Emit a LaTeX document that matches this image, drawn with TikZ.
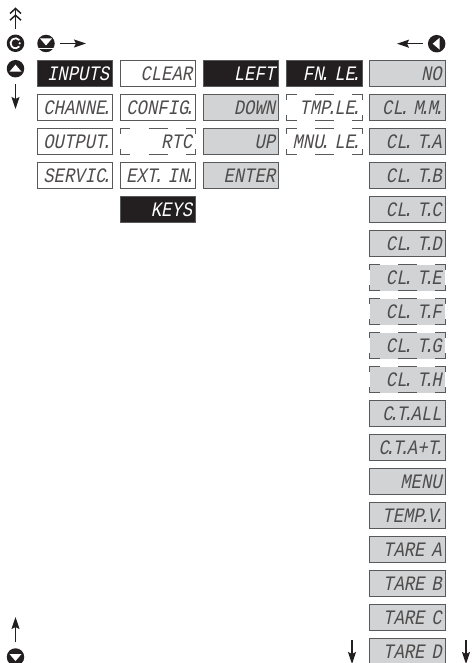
\documentclass[tikz,border=0pt]{standalone}
\usepackage{fontspec}
\usetikzlibrary{arrows.meta}
\newfontfamily\lcdfont[FakeSlant=0.2,FakeStretch=0.84]{Liberation Mono}
\definecolor{lcdgray}{HTML}{D1D3D4}
\definecolor{edgegray}{HTML}{58595B}
\definecolor{inkblack}{HTML}{231F20}
\newcommand{\pd}{\kern-0.2em.\kern-0.12em}
\newcommand{\cornermarks}[1]{%
  \draw[marks] ([yshift=-5.5*0.75pt]#1.north west) -- (#1.north west) -- ++(10,0);
  \draw[marks] ([xshift=-10*0.75pt]#1.north east) -- (#1.north east) -- ++(0,5.5);
  \draw[marks] ([yshift=5.5*0.75pt]#1.south west) -- (#1.south west) -- ++(10,0);
  \draw[marks] ([xshift=-10*0.75pt]#1.south east) -- (#1.south east) -- ++(0,-5.5);
  \draw[marks] ([xshift=-9.5*0.75pt]#1.north) -- ([xshift=9.5*0.75pt]#1.north);
  \draw[marks] ([xshift=-9.5*0.75pt]#1.south) -- ([xshift=9.5*0.75pt]#1.south);
}
\tikzset{
  x=0.75pt,y=-0.75pt,
  lcd/.style={minimum width=75.5*0.75pt,minimum height=26*0.75pt,inner sep=0pt,outer sep=0pt,
    text width=68.5*0.75pt,align=right,font=\lcdfont\fontsize{15.4pt}{15.4pt}\selectfont,
    text height=10pt,text depth=0pt,text=inkblack!80!white},
  plain/.style={lcd,draw=edgegray,line width=1.1pt,fill=white},
  active/.style={lcd,draw=edgegray,line width=0.5pt,fill=inkblack,text=white},
  shaded/.style={lcd,draw=edgegray,line width=1.1pt,fill=lcdgray},
  hiddenw/.style={lcd,fill=white},
  hiddeng/.style={lcd,fill=lcdgray},
  marks/.style={draw=edgegray,line width=1.1pt},
  btn/.style={circle,fill=inkblack,minimum size=17.5*0.75pt,inner sep=0pt,outer sep=0pt},
  arr/.style={draw=inkblack,line width=1.1pt,-{Stealth[length=12*0.75pt,width=8*0.75pt,inset=2*0.75pt]}},
  dblarr/.style={draw=inkblack,line width=1.1pt,-{Straight Barb[length=5*0.75pt,width=11*0.75pt,line width=1.1pt]Straight Barb[length=5*0.75pt,width=11*0.75pt,line width=1.1pt]}},
}
\begin{document}
\begin{tikzpicture}
\useasboundingbox (0,0) rectangle (471,663);
\clip (0,0) rectangle (471,663);
% column 1
\node[active] (inputs) at (75,73.5) {INPUTS};
\node[plain] (channe) at (75,107.5) {CHANNE\pd};
\node[plain] (output) at (75,141.5) {OUTPUT\pd};
\node[plain] (servic) at (75,175.5) {SERVIC\pd};
% column 2
\node[plain] (clear) at (158,73.5) {CLEAR};
\node[plain] (config) at (158,107.5) {CONFIG\pd};
\node[hiddenw] (rtc) at (158,141.5) {RTC};
\node[plain] (extin) at (158,175.5) {EXT\pd\ IN\pd};
\node[active] (keys) at (158,209.5) {KEYS};
% column 3
\node[active] (left) at (241,73.5) {LEFT};
\node[shaded] (down) at (241,107.5) {DOWN};
\node[shaded] (up) at (241,141.5) {UP};
\node[shaded] (enter) at (241,175.5) {ENTER};
% column 4
\node[active] (fnle) at (324.5,73.5) {FN\pd\ LE\pd};
\node[hiddenw] (tmple) at (324.5,107.5) {TMP\pd LE\pd};
\node[hiddenw] (mnule) at (324.5,141.5) {MNU\pd\ LE\pd};
% column 5
\node[shaded] (no) at (407.5,73.5) {NO};
\node[shaded] (clmm) at (407.5,107.5) {CL\pd\ M\pd M\pd};
\node[shaded] (clta) at (407.5,141.5) {CL\pd\ T\pd A};
\node[shaded] (cltb) at (407.5,175.5) {CL\pd\ T\pd B};
\node[shaded] (cltc) at (407.5,209.5) {CL\pd\ T\pd C};
\node[shaded] (cltd) at (407.5,243.5) {CL\pd\ T\pd D};
\node[hiddeng] (clte) at (407.5,277.5) {CL\pd\ T\pd E};
\node[hiddeng] (cltf) at (407.5,311.5) {CL\pd\ T\pd F};
\node[hiddeng] (cltg) at (407.5,345.5) {CL\pd\ T\pd G};
\node[hiddeng] (clth) at (407.5,379.5) {CL\pd\ T\pd H};
\node[shaded] (ctall) at (407.5,413.5) {C\pd T\pd ALL};
\node[shaded] (ctakt) at (407.5,447.5) {C\pd T\pd A+T\pd};
\node[shaded] (menu) at (407.5,481.5) {MENU};
\node[shaded] (tempv) at (407.5,515.5) {TEMP\pd V\pd};
\node[shaded] (tarea) at (407.5,549.5) {TARE A};
\node[shaded] (tareb) at (407.5,583.5) {TARE B};
\node[shaded] (tarec) at (407.5,617.5) {TARE C};
\node[shaded] (tared) at (407.5,651.5) {TARE D};
% dashed outlines
\cornermarks{rtc}
\cornermarks{tmple}
\cornermarks{mnule}
\cornermarks{clte}
\cornermarks{cltf}
\cornermarks{cltg}
\cornermarks{clth}
% buttons
\node[btn] (bmode) at (15.5,43.3) {};
\node[btn] (bup) at (15.5,68.7) {};
\node[btn] (bdown) at (46,43.5) {};
\node[btn] (bleft) at (436.7,43.7) {};
\node[btn] (bdownb) at (15.5,657) {};
% button marks
\draw[white,line width=1.3pt] (bmode) ++(3.9,-3.2) arc[start angle=-39,delta angle=-282,radius=5];
\fill[white] (bmode) ++(4.2,0) circle[radius=1.2];
\fill[white] (bup) ++(-6,3) -- ++(12,0) -- ++(-6,-7) -- cycle;
\fill[white] (bdown) ++(-6,-5) -- ++(12,0) -- ++(-6,7) -- cycle;
\draw[white,line width=0.85pt] (bdown) ++(-7.5,4.8) -- ++(15,0);
\fill[white] (bleft) ++(3,-6) -- ++(0,12) -- ++(-7,-6) -- cycle;
\fill[white] (bdownb) ++(-6,-3) -- ++(12,0) -- ++(-6,7) -- cycle;
% arrows
\coordinate (t1) at (15.5,7.5);
\coordinate (t2) at (15.5,109);
\coordinate (t3) at (86,43.5);
\coordinate (t4) at (397,43.7);
\coordinate (t5) at (15.5,617);
\coordinate (s6) at (352,640);
\coordinate (t6) at (352,664);
\coordinate (s7) at (466,640);
\coordinate (t7) at (466,664);
\draw[dblarr,shorten <=5.5*0.75pt] (bmode) -- (t1);
\draw[arr,shorten <=6.5*0.75pt] (bup) -- (t2);
\draw[arr,shorten <=5.5*0.75pt] (bdown) -- (t3);
\draw[arr,shorten <=5*0.75pt] (bleft) -- (t4);
\draw[arr,shorten <=6*0.75pt] (bdownb) -- (t5);
\draw[arr] (s6) -- (t6);
\draw[arr] (s7) -- (t7);
\end{tikzpicture}
\end{document}
